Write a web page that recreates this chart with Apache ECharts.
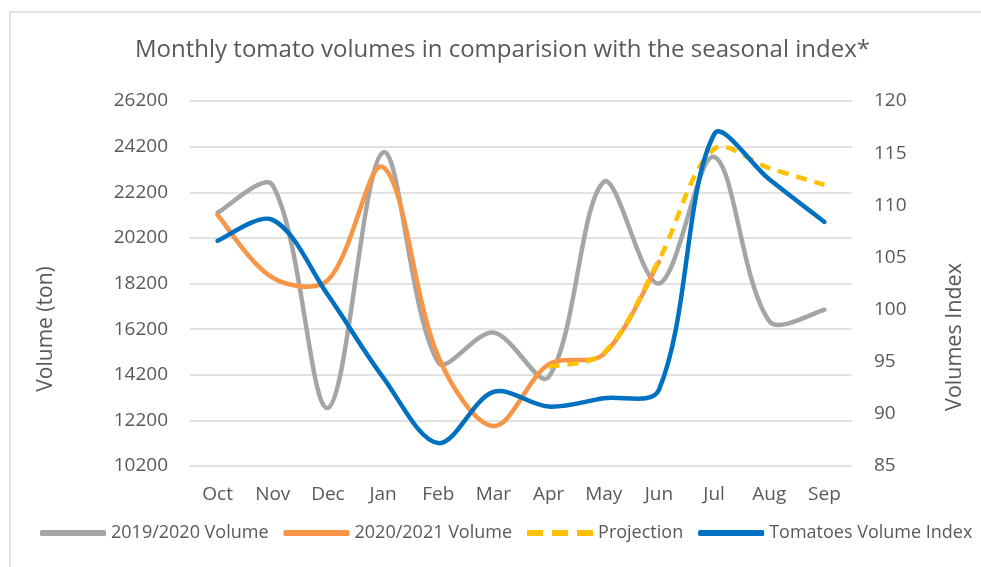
<!DOCTYPE html>
<html>
<head>
<meta charset="utf-8">
<script src="https://cdn.jsdelivr.net/npm/echarts@6/dist/echarts.min.js"></script>
<style>
html,body{margin:0;padding:0;background:#fff;}
#chart{width:981px;height:567px;}
</style>
</head>
<body>
<div id="chart"></div>
<script>
var titleText = 'Monthly tomato volumes in comparision with the seasonal index*';
var months = ['Oct','Nov','Dec','Jan','Feb','Mar','Apr','May','Jun','Jul','Aug','Sep'];
var vol1920 = [21300, 22500, 12750, 23950, 14750, 16050, 14100, 22650, 18200, 23750, 16550, 17050];
var vol2021 = [21200, 18450, 18350, 23300, 15000, 11950, 14650, 15100, 19150, null, null, null];
var projection = [null, null, null, null, null, null, 14550, 15150, 19230, 24100, 23260, 22520];
var volumeIndex = [106.6, 108.6, 101.4, 93.5, 87.2, 92.1, 90.7, 91.5, 92.3, 116.8, 112.5, 108.4];
var leftTicks = {min: 10200, max: 26200, interval: 2000};
var rightTicks = {min: 85, max: 120, interval: 5};

var FONT = '"Open Sans", Lato, sans-serif';
var TXT = '#595959';

function dist(a, b) { return Math.sqrt((a[0] - b[0]) * (a[0] - b[0]) + (a[1] - b[1]) * (a[1] - b[1])); }

function smoothPath(pts) {
  // cubic Bezier spline through the points, tangents weighted by segment length
  var n = pts.length;
  if (!n) return '';
  var cin = [], cout = [];
  for (var i = 0; i < n; i++) {
    var p = pts[i];
    if (i === 0 || i === n - 1) {
      var q = i === 0 ? pts[1] : pts[n - 2];
      var c = [p[0] + (q[0] - p[0]) / 6, p[1] + (q[1] - p[1]) / 6];
      cin[i] = c; cout[i] = c;
      continue;
    }
    var a = pts[i - 1], b = pts[i + 1];
    var tx = b[0] - a[0], ty = b[1] - a[1];
    var dp = dist(a, p), dn = dist(p, b), s = dp + dn;
    var fo = dn / s / 3, fi = dp / s / 3;
    cout[i] = [p[0] + tx * fo, p[1] + ty * fo];
    cin[i] = [p[0] - tx * fi, p[1] - ty * fi];
  }
  var d = 'M' + pts[0][0] + ',' + pts[0][1];
  for (var j = 0; j < n - 1; j++) {
    d += 'C' + cout[j][0] + ',' + cout[j][1] + ',' + cin[j + 1][0] + ',' + cin[j + 1][1] + ',' + pts[j + 1][0] + ',' + pts[j + 1][1];
  }
  return d;
}

function toData(values) {
  var out = [];
  values.forEach(function (v, i) { if (v != null) out.push([i, v]); });
  return out;
}

function makeSeries(name, values, color, yIndex, dash) {
  return {
    name: name, type: 'custom', yAxisIndex: yIndex, data: toData(values),
    encode: {x: 0, y: 1},
    itemStyle: {color: color},
    renderItem: function (params, api) {
      if (params.dataIndex !== 0) return null;
      var pts = [];
      values.forEach(function (v, i) { if (v != null) pts.push(api.coord([i, v])); });
      return {
        type: 'path',
        shape: {pathData: smoothPath(pts)},
        style: {fill: null, stroke: color, lineWidth: 4.5, lineCap: dash ? 'butt' : 'round', lineJoin: 'round', lineDash: dash || null}
      };
    }
  };
}

var chart = echarts.init(document.getElementById('chart'));
chart.setOption({
  animation: false,
  backgroundColor: '#fff',
  textStyle: {fontFamily: FONT},
  title: {
    text: titleText, left: 130, top: 33,
    textStyle: {fontFamily: FONT, fontSize: 24, fontWeight: 'normal', color: TXT}
  },
  legend: {
    left: 35, top: 519, itemWidth: 66, itemHeight: 6, itemGap: 15,
    textStyle: {fontFamily: FONT, fontSize: 18, color: TXT},
    data: [
      {name: '2019/2020 Volume', icon: 'roundRect'},
      {name: '2020/2021 Volume', icon: 'roundRect'},
      {name: 'Projection', icon: 'path://M0,0h16v6h-16z M25,0h16v6h-16z M50,0h16v6h-16z'},
      {name: 'Tomatoes Volume Index', icon: 'roundRect'}
    ]
  },
  grid: {left: 190, right: 129, top: 101, height: 365},
  xAxis: {
    type: 'category', data: months, boundaryGap: true,
    axisLine: {show: false}, axisTick: {show: false},
    axisLabel: {fontFamily: FONT, fontSize: 19, color: TXT, margin: 19}
  },
  yAxis: [{
    type: 'value', min: leftTicks.min, max: leftTicks.max, interval: leftTicks.interval,
    axisLine: {show: false}, axisTick: {show: false},
    axisLabel: {fontFamily: FONT, fontSize: 19, color: TXT, margin: 22, formatter: function (v) { return String(v); }},
    splitLine: {lineStyle: {color: '#d9d9d9', width: 1.5}}
  }, {
    type: 'value', min: rightTicks.min, max: rightTicks.max, interval: rightTicks.interval,
    axisLine: {show: false}, axisTick: {show: false},
    axisLabel: {fontFamily: FONT, fontSize: 19, color: TXT, margin: 22},
    splitLine: {show: false}
  }],
  graphic: [
    {type: 'rect', shape: {x: 10, y: 12, width: 1000, height: 600}, style: {fill: 'none', stroke: '#d9d9d9', lineWidth: 1.5}, silent: true},
    {type: 'text', x: 46, y: 329, rotation: Math.PI / 2, style: {text: 'Volume (ton)', fontFamily: FONT, fontSize: 21, fill: TXT, align: 'center', verticalAlign: 'middle'}},
    {type: 'text', x: 955, y: 337, rotation: Math.PI / 2, style: {text: 'Volumes Index', fontFamily: FONT, fontSize: 21.5, fill: TXT, align: 'center', verticalAlign: 'middle'}}
  ],
  series: [
    makeSeries('2019/2020 Volume', vol1920, '#a5a5a5', 0),
    makeSeries('2020/2021 Volume', vol2021, '#f79646', 0),
    makeSeries('Projection', projection, '#ffc000', 0, [11, 8]),
    makeSeries('Tomatoes Volume Index', volumeIndex, '#0070c0', 1)
  ]
});
</script>
</body>
</html>
